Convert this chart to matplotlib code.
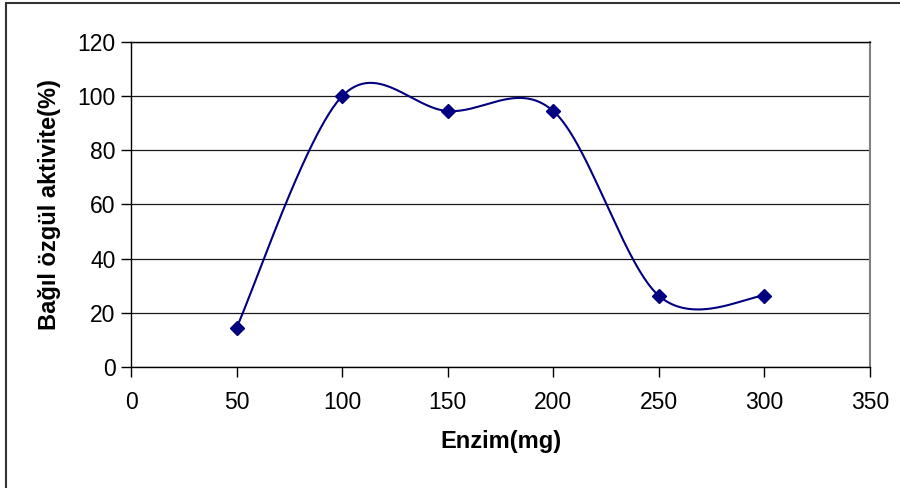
import numpy as np
import matplotlib
matplotlib.use("Agg")
import matplotlib.pyplot as plt
from matplotlib.patches import Rectangle

enzim = [50, 100, 150, 200, 250, 300]
aktivite = [14.5, 100, 94.5, 94.5, 26.3, 26.3]
xticks = [0, 50, 100, 150, 200, 250, 300, 350]
yticks = [0, 20, 40, 60, 80, 100, 120]


def excel_smooth(xs, ys, n=60):
    pts = np.column_stack([xs, ys]).astype(float)
    out = [pts[0]]
    for i in range(len(pts) - 1):
        p0 = pts[i - 1] if i > 0 else pts[i]
        p1 = pts[i]
        p2 = pts[i + 1]
        p3 = pts[i + 2] if i + 2 < len(pts) else pts[i + 1]
        c1 = p1 + (p2 - p0) / 6.0
        c2 = p2 - (p3 - p1) / 6.0
        t = np.linspace(0, 1, n)[1:, None]
        seg = ((1 - t) ** 3) * p1 + 3 * ((1 - t) ** 2) * t * c1 + 3 * (1 - t) * t ** 2 * c2 + t ** 3 * p2
        out.extend(seg)
    out = np.array(out)
    return out[:, 0], out[:, 1]


plt.rcParams['font.family'] = ['Liberation Sans', 'DejaVu Sans']

fig = plt.figure(figsize=(9, 4.88), dpi=100)
ax = fig.add_axes([131 / 900, 1 - 367 / 488, (870 - 131) / 900, (367 - 42) / 488])

sx, sy = excel_smooth(enzim, aktivite)
ax.plot(sx, sy, color='#000080', lw=1.5, zorder=3)
ax.plot(enzim, aktivite, linestyle='none', marker='D', markersize=7.5,
        color='#000080', zorder=4)

ax.set_xlim(0, 350)
ax.set_ylim(0, 120)
ax.set_xticks(xticks)
ax.set_yticks(yticks)
ax.yaxis.grid(True, color='#1a1a1a', lw=0.9)
ax.set_axisbelow(True)

for s in ['left', 'bottom']:
    ax.spines[s].set_color('black')
    ax.spines[s].set_linewidth(1.0)
ax.spines['top'].set_color('black')
ax.spines['top'].set_linewidth(1.0)
ax.spines['right'].set_color('#808080')
ax.spines['right'].set_linewidth(1.5)

ax.tick_params(axis='both', direction='out', length=7, width=1, color='black',
               labelsize=16.5, pad=4)
ax.tick_params(axis='x', pad=10)

ax.set_xlabel('Enzim(mg)', fontsize=17, fontweight='bold', labelpad=12)
ax.set_ylabel('Bağıl özgül aktivite(%)', fontsize=17, fontweight='bold', labelpad=12)

fig.patches.append(Rectangle((5.5 / 900, -0.05), 1.2, 1 - 2.5 / 488 + 0.05,
                             transform=fig.transFigure, fill=False,
                             edgecolor='#333333', lw=1.5))

fig.savefig('out.png', dpi=100)
